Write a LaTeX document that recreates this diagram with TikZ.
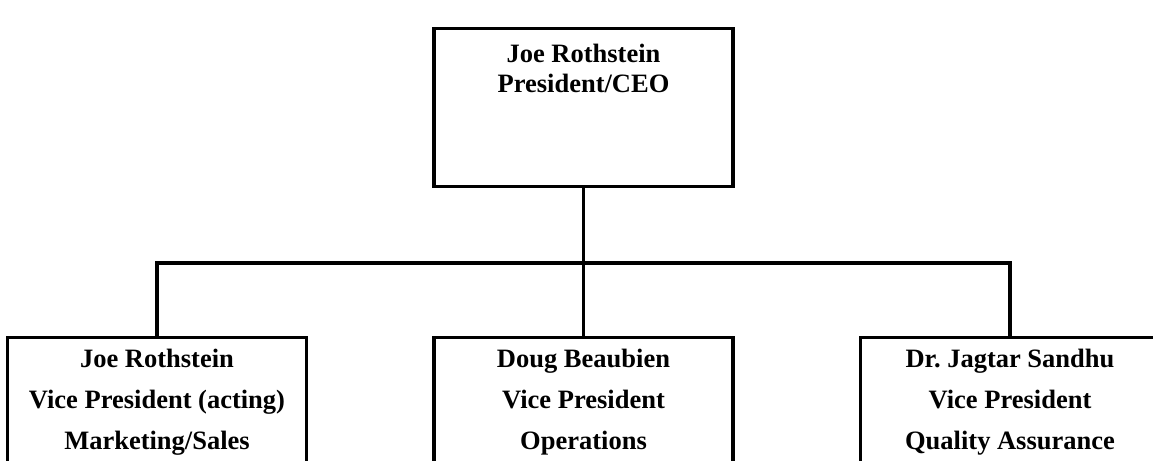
\documentclass[tikz,border=0pt]{standalone}
\usepackage{fontspec}
\setmainfont{Liberation Serif}
\usetikzlibrary{positioning}
\tikzset{post box/.style={draw, line width=1.6pt, minimum width=149.5pt, inner sep=0pt}}
\tikzset{post text/.style={align=center, inner sep=0pt, anchor=base}}
\tikzset{wire/.style={line width=1.6pt}}

\begin{document}
\begin{tikzpicture}[x=0.5pt, y=-0.5pt]

% Fix the page to the size of the reference
\useasboundingbox (0,0) rectangle (1153,461);
\clip (0,0) rectangle (1153,461);

% Draw the top box
\node[post box, minimum height=79pt, anchor=north] (ceo) at (583.5,27) {};
% the base anchor sits on the last line
\node[post text, font=\fontsize{13.25pt}{15pt}\selectfont\bfseries] (ceotext) at (583.5,92) {Joe Rothstein\\President/CEO};

% Draw the three lower boxes, cut off by the page edge
\node[post box, minimum height=75pt, anchor=north] (vpsales) at (157,336) {};
\node[post box, minimum height=75pt, anchor=north] (vpops) at (583.5,336) {};
\node[post box, minimum height=75pt, anchor=north] (vpqa) at (1010,336) {};

% Names and titles in the lower boxes
\node[post text, font=\fontsize{13.25pt}{20.5pt}\selectfont\bfseries] (salestext) at (157,449) {Joe Rothstein\\Vice President (acting)\\Marketing/Sales};
\node[post text, font=\fontsize{13.25pt}{20.5pt}\selectfont\bfseries] (opstext) at (583.5,449) {Doug Beaubien\\Vice President\\Operations};
\node[post text, font=\fontsize{13.25pt}{20.5pt}\selectfont\bfseries] (qatext) at (1010,449) {Dr.\ Jagtar Sandhu\\Vice President\\Quality Assurance};

% Draw the connecting lines
\coordinate (hub) at (583.5,263);
\draw[wire] (ceo.south) -- (hub);
\draw[wire] (vpsales.north) |- (hub) -| (vpqa.north);
\draw[wire] (hub) -- (vpops.north);

\end{tikzpicture}
\end{document}
